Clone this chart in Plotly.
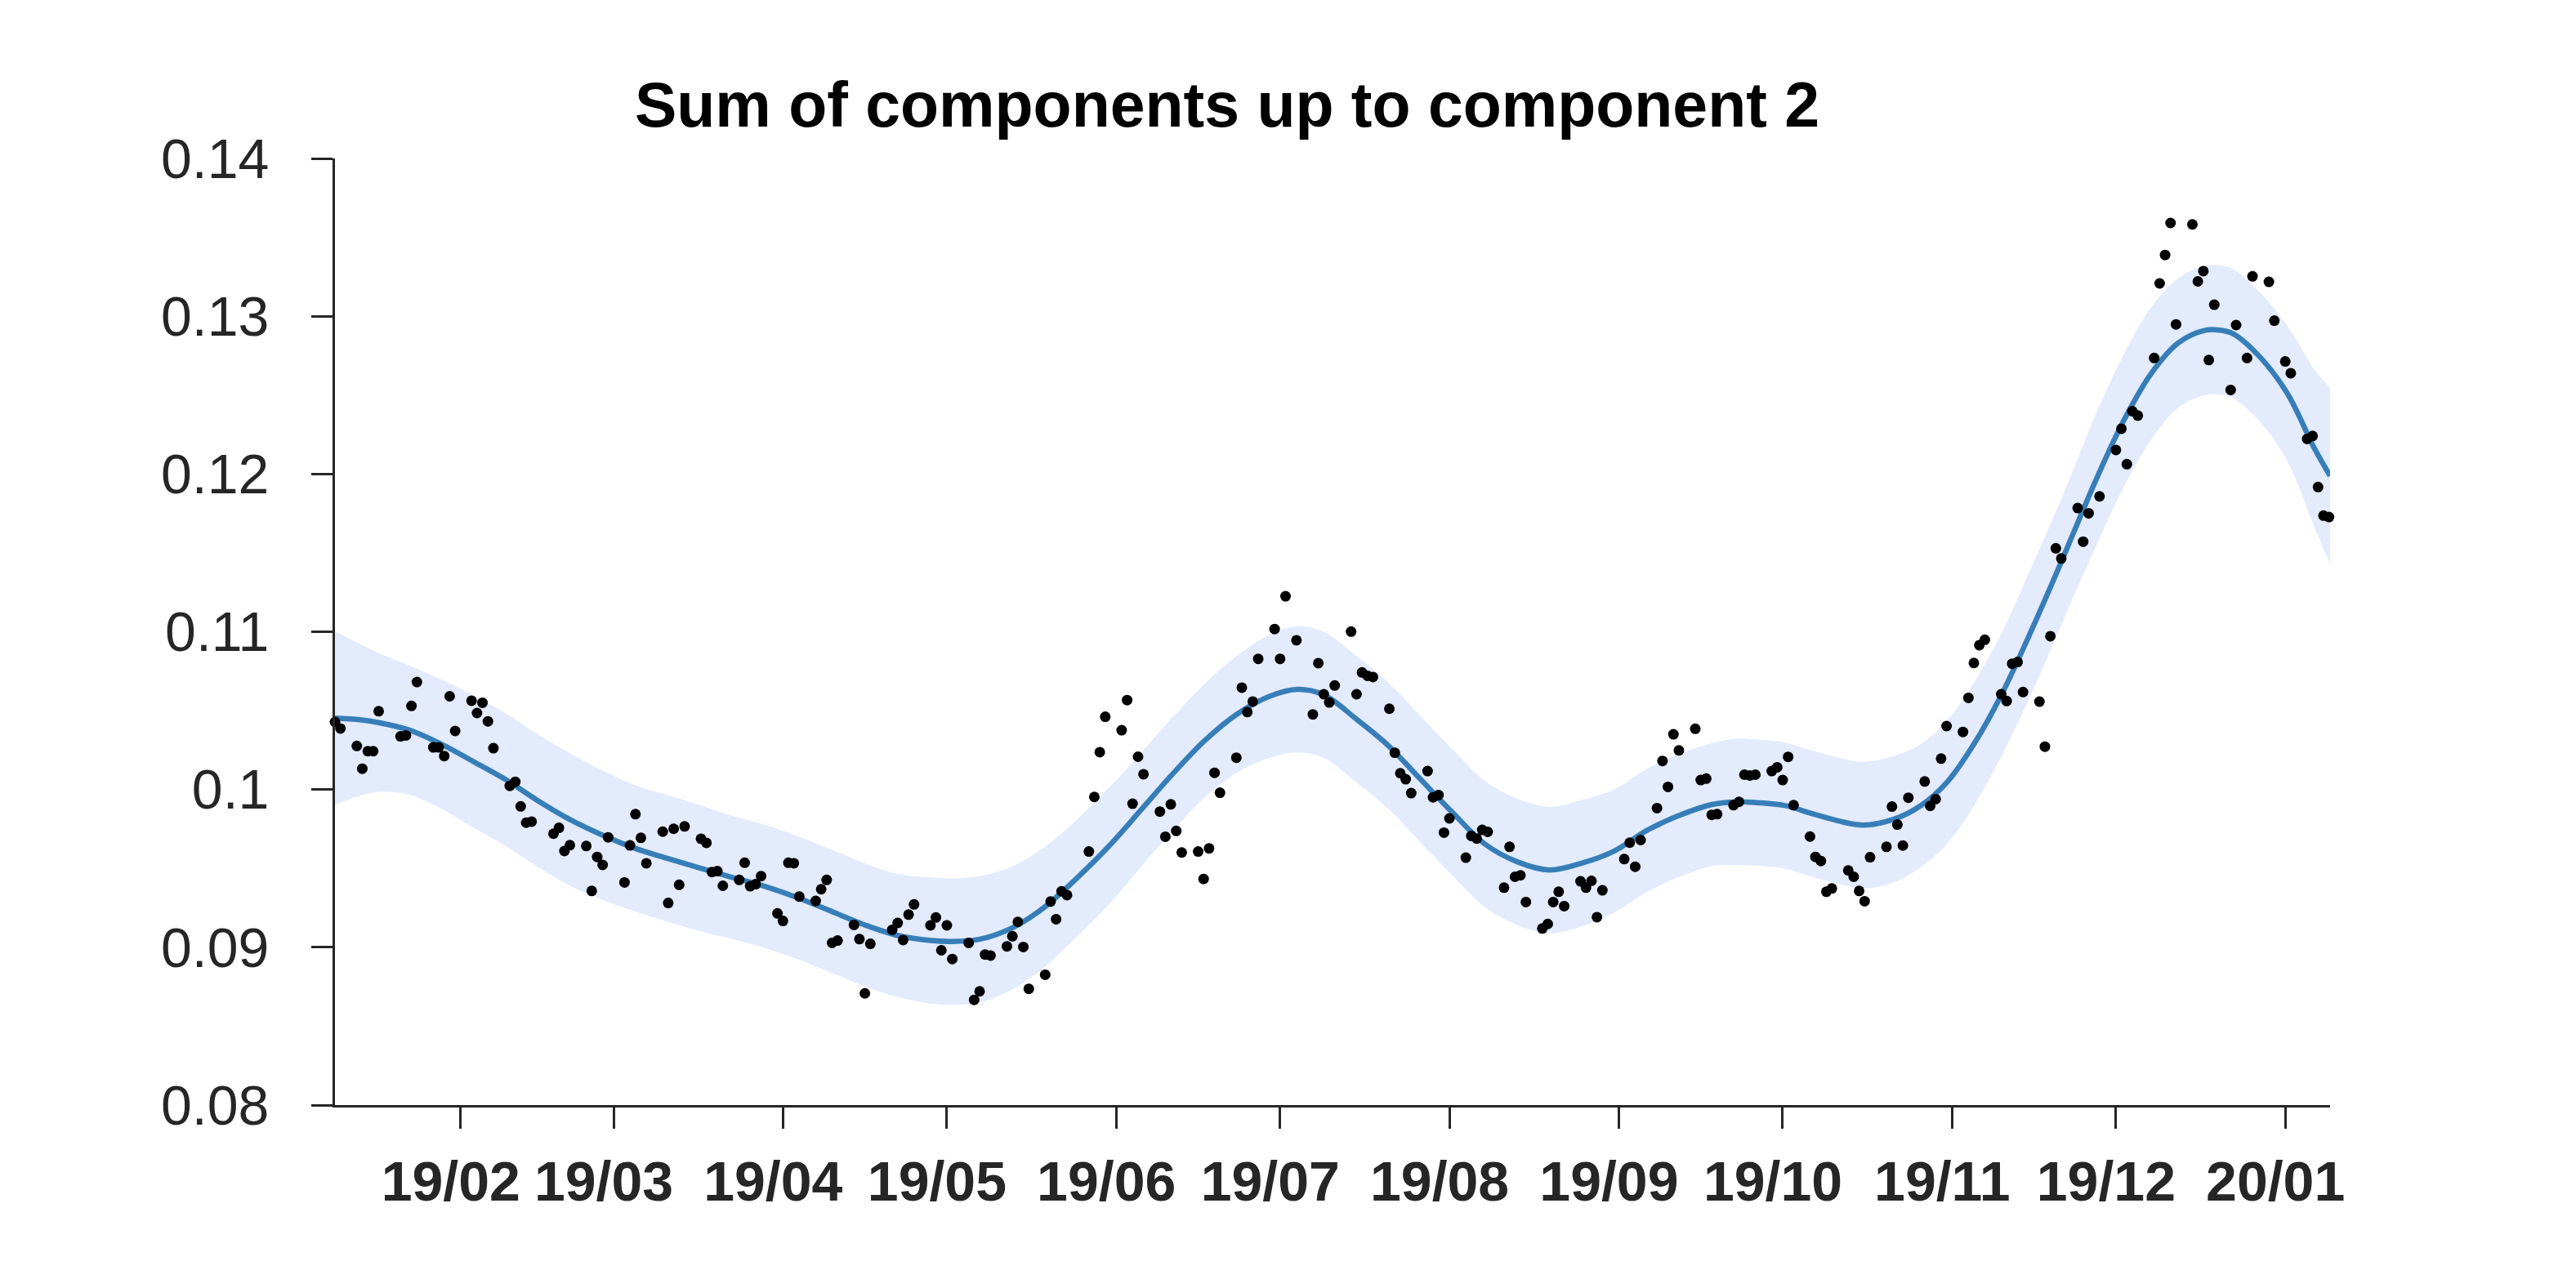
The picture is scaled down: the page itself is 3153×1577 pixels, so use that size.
import pandas as pd
import plotly.graph_objects as go

# ---------------- data ----------------
start_date = "2019-01-09"
end_offset = 365.2

obs_day = [
    0, 1, 4, 5, 6, 7, 8, 12, 13, 14, 15, 18, 19, 20, 21, 22, 25, 26, 27, 28, 29,
    32, 33, 34, 35, 36, 40, 41, 42, 43, 46, 47, 48, 49, 50, 53, 54, 55, 56, 57,
    60, 61, 62, 63, 64, 67, 68, 69, 70, 71, 74, 75, 76, 77, 78, 81, 82, 83, 84, 85,
    88, 89, 90, 91, 92, 95, 96, 97, 98, 102, 103, 104, 105, 106, 109, 110, 111, 112, 113,
    116, 117, 118, 119, 120, 123, 124, 125, 126, 127, 130, 131, 132, 133, 134,
    138, 139, 140, 141, 144, 145, 146, 147, 148, 151, 152, 153, 154, 155,
    158, 159, 160, 161, 162, 165, 166, 167, 168, 169, 172, 173, 174, 176,
    179, 180, 181, 182, 183, 186, 187, 188, 189, 190, 193, 194, 195, 196, 197,
    200, 201, 202, 203, 204, 207, 208, 209, 210, 211, 214, 215, 216, 217, 218,
    221, 222, 223, 224, 225, 228, 229, 230, 231, 232, 236, 237, 238, 239,
    242, 243, 244, 245, 246, 249, 250, 251, 252, 253, 256, 257, 258, 259, 260,
    263, 264, 265, 266, 267, 270, 271, 272, 273, 274, 277, 278, 279, 280, 281,
    284, 285, 286, 287, 288, 291, 292, 293, 294, 295, 298, 299, 300, 301, 302,
    305, 306, 307, 308, 309, 312, 313, 314, 315, 316, 319, 320, 321, 323,
    326, 327, 328, 329, 330, 333, 334, 335, 336, 337, 340, 341, 342, 343, 344,
    347, 348, 350, 351, 354, 355, 357, 358, 361, 362, 363, 364, 365,
]
obs_value = [
    0.10428, 0.10387, 0.10276, 0.10132, 0.10243, 0.10243, 0.10496, 0.10337, 0.10343, 0.10530,
    0.10681, 0.10267, 0.10267, 0.10212, 0.10591, 0.10371, 0.10563, 0.10485, 0.10550, 0.10432,
    0.10262, 0.10023, 0.10049, 0.09893, 0.09790, 0.09797, 0.09720, 0.09757, 0.09610, 0.09647,
    0.09642, 0.09357, 0.09573, 0.09522, 0.09697, 0.09411, 0.09646, 0.09844, 0.09694, 0.09533,
    0.09733, 0.09281, 0.09751, 0.09396, 0.09766, 0.09688, 0.09662, 0.09477, 0.09483, 0.09390,
    0.09427, 0.09536, 0.09387, 0.09400, 0.09451, 0.09215, 0.09167, 0.09536, 0.09533, 0.09322,
    0.09294, 0.09368, 0.09427, 0.09028, 0.09043, 0.09142, 0.09052, 0.08708, 0.09022, 0.09111,
    0.09154, 0.09046, 0.09207, 0.09272, 0.09139, 0.09189, 0.08981, 0.09139, 0.08926,
    0.09028, 0.08667, 0.08721, 0.08954, 0.08948, 0.09006, 0.09070, 0.09161, 0.09002, 0.08737,
    0.08826, 0.09290, 0.09178, 0.09355, 0.09331,
    0.09607, 0.09953, 0.10237, 0.10461, 0.10376, 0.10567, 0.09910, 0.10208, 0.10097,
    0.09860, 0.09701, 0.09906, 0.09738, 0.09601,
    0.09607, 0.09433, 0.09627, 0.10106, 0.09980, 0.10202, 0.10646, 0.10491, 0.10558, 0.10828,
    0.11017, 0.10828, 0.11225, 0.10946,
    0.10476, 0.10801, 0.10604, 0.10552, 0.10659, 0.11001, 0.10604, 0.10742, 0.10721, 0.10713,
    0.10512, 0.10233, 0.10103, 0.10065, 0.09977,
    0.10117, 0.09951, 0.09965, 0.09727, 0.09817, 0.09568, 0.09706, 0.09689, 0.09744, 0.09732,
    0.09378, 0.09637, 0.09447, 0.09456, 0.09287,
    0.09119, 0.09148, 0.09287, 0.09352, 0.09261, 0.09418, 0.09378, 0.09421, 0.09191, 0.09361,
    0.09559, 0.09663, 0.09511, 0.09680,
    0.09882, 0.10181, 0.10017, 0.10350, 0.10248, 0.10385, 0.10060, 0.10069, 0.09839, 0.09844,
    0.09901, 0.09922, 0.10094, 0.10089, 0.10094,
    0.10117, 0.10141, 0.10060, 0.10207, 0.09901, 0.09702, 0.09573, 0.09547, 0.09352, 0.09373,
    0.09487, 0.09447, 0.09357, 0.09292, 0.09571,
    0.09637, 0.09892, 0.09778, 0.09645, 0.09948, 0.10051, 0.09896, 0.09939, 0.10196, 0.10402,
    0.10365, 0.10581, 0.10802, 0.10915, 0.10949,
    0.10604, 0.10561, 0.10797, 0.10808, 0.10618, 0.10557, 0.10272, 0.10972, 0.11529, 0.11464,
    0.11784, 0.11571, 0.11751, 0.11858,
    0.12152, 0.12287, 0.12062, 0.12398, 0.12370, 0.12735, 0.13208, 0.13388, 0.13591, 0.12948,
    0.13582, 0.13221, 0.13286, 0.12722, 0.13073,
    0.12533, 0.12944, 0.12735, 0.13253, 0.13218, 0.12972, 0.12713, 0.12639, 0.12222, 0.12241,
    0.11917, 0.11736, 0.11727,
]

# fitted curve (sum of components) and half-width of its shaded band
fit_day = [
    0, 4.6, 8, 13.5, 19.4, 25.3, 31.2, 37.1, 43, 48.9, 54.8, 60.8, 66.7, 72.6, 78.5, 85,
    91.3, 97.2, 103.1, 109.1, 112.6, 117.9, 123.8, 129.7, 135.7, 141.6, 147.5, 153.4,
    159.3, 165.2, 171.1, 176.2, 181, 186.9, 192.8, 198.7, 204.6, 210.5, 216.4, 222.3,
    228.2, 234.2, 240.1, 246, 251.9, 256.6, 260.3, 265.3, 270.2, 275.2, 279.7, 285.2,
    290.2, 295.2, 300.1, 305.1, 310.1, 315.1, 317.6, 322.6, 327.5, 332.5, 337.5, 342.5,
    345, 347.5, 352.4, 357.4, 362.4, 365.2,
]
fit_value = [
    0.10452, 0.10442, 0.10424, 0.10378, 0.10289, 0.10178, 0.10064, 0.09930, 0.09810, 0.09712,
    0.09629, 0.09564, 0.09503, 0.09444, 0.09388, 0.09310,
    0.09222, 0.09139, 0.09074, 0.09043, 0.09037, 0.09050, 0.09120, 0.09250, 0.09435, 0.09638,
    0.09869, 0.10101, 0.10313, 0.10480, 0.10591, 0.10635, 0.10600, 0.10448, 0.10279, 0.10065,
    0.09853, 0.09654, 0.09542, 0.09490, 0.09533, 0.09611, 0.09740, 0.09835, 0.09904, 0.09922,
    0.09917, 0.09899, 0.09849, 0.09801, 0.09775, 0.09810, 0.09896, 0.10051, 0.10293, 0.10604,
    0.10975, 0.11370, 0.11575, 0.11982, 0.12343, 0.12639, 0.12833, 0.12912, 0.12912, 0.12888,
    0.12740, 0.12509, 0.12158, 0.11988,
]
band_halfwidth = [
    0.0055, 0.0048, 0.0044, 0.0041, 0.0041, 0.0042, 0.0042, 0.0042, 0.0042, 0.0041,
    0.0040, 0.0040, 0.0040, 0.0039, 0.0039, 0.0039,
    0.0039, 0.0039, 0.0039, 0.0040, 0.0040, 0.0040, 0.0039, 0.0038, 0.0037, 0.0037,
    0.0036, 0.0036, 0.0036, 0.0037, 0.0039, 0.0040, 0.0040, 0.0040, 0.0040, 0.0040,
    0.0040, 0.0040, 0.0040, 0.0040, 0.0040, 0.0039, 0.0039, 0.0039, 0.0039, 0.0040,
    0.0040, 0.0040, 0.0040, 0.0040, 0.0040, 0.0040, 0.0039, 0.0039, 0.0039, 0.0039,
    0.0040, 0.0040, 0.0040, 0.0042, 0.0042, 0.0042, 0.0041, 0.0041, 0.0041, 0.0041,
    0.0041, 0.0043, 0.0050, 0.0056,
]

tick_dates = ["2019-02-01", "2019-03-01", "2019-04-01", "2019-05-01", "2019-06-01",
              "2019-07-01", "2019-08-01", "2019-09-01", "2019-10-01", "2019-11-01",
              "2019-12-01", "2020-01-01"]
tick_labels = ["19/02", "19/03", "19/04", "19/05", "19/06", "19/07", "19/08", "19/09",
               "19/10", "19/11", "19/12", "20/01"]
y_ticks = [0.08, 0.09, 0.10, 0.11, 0.12, 0.13, 0.14]
y_tick_labels = ["0.08", "0.09", "0.1", "0.11", "0.12", "0.13", "0.14"]
title_text = "Sum of components up to component 2"

# ---------------- build figure ----------------
base = pd.Timestamp(start_date)


def to_dates(days):
    return base + pd.to_timedelta(days, unit="D")


band_upper = [f + h for f, h in zip(fit_value, band_halfwidth)]
band_lower = [f - h for f, h in zip(fit_value, band_halfwidth)]

axis_color = "#262626"
band_color = "#e3ebfc"
line_color = "#377eb8"
smooth = 1.0

fig = go.Figure()
fig.add_trace(go.Scatter(x=to_dates(fit_day), y=band_upper, mode="lines",
                         line=dict(width=0, shape="spline", smoothing=smooth, color=band_color),
                         hoverinfo="skip", showlegend=False))
fig.add_trace(go.Scatter(x=to_dates(fit_day), y=band_lower, mode="lines",
                         line=dict(width=0, shape="spline", smoothing=smooth, color=band_color),
                         fill="tonexty", fillcolor=band_color,
                         hoverinfo="skip", showlegend=False))
fig.add_trace(go.Scatter(x=to_dates(fit_day), y=fit_value, mode="lines",
                         line=dict(width=6.5, shape="spline", smoothing=smooth, color=line_color),
                         showlegend=False))
fig.add_trace(go.Scatter(x=to_dates(obs_day), y=obs_value, mode="markers",
                         marker=dict(size=13, color="black", line=dict(width=0)),
                         cliponaxis=False, showlegend=False))

fig.update_layout(
    width=3153, height=1577,
    margin=dict(l=410, r=301, t=194, b=224, pad=0),
    paper_bgcolor="white", plot_bgcolor="white",
    showlegend=False,
    title=dict(text=title_text, x=1502 / 3153, xref="container", xanchor="center",
               y=1 - 128 / 1577, yref="container", yanchor="middle",
               font=dict(family="Liberation Sans", size=77, color="black", weight="bold")),
)
fig.update_xaxes(
    type="date",
    range=[base, base + pd.Timedelta(days=end_offset)],
    tickmode="array", tickvals=tick_dates, ticktext=tick_labels,
    ticks="outside", ticklen=26, tickwidth=3, tickcolor=axis_color,
    showline=True, linewidth=3, linecolor=axis_color,
    showgrid=False, zeroline=False,
    tickfont=dict(family="Liberation Sans", size=68, color=axis_color, weight="bold"),
    ticklabelstandoff=6, ticklabelshift=-12,
)
fig.update_yaxes(
    range=[0.08, 0.14],
    tickmode="array", tickvals=y_ticks, ticktext=y_tick_labels,
    ticks="outside", ticklen=26, tickwidth=3, tickcolor=axis_color,
    showline=True, linewidth=3, linecolor=axis_color,
    showgrid=False, zeroline=False,
    tickfont=dict(family="Liberation Sans", size=68, color=axis_color),
    ticklabelstandoff=38,
)

fig.write_html("out.html")
